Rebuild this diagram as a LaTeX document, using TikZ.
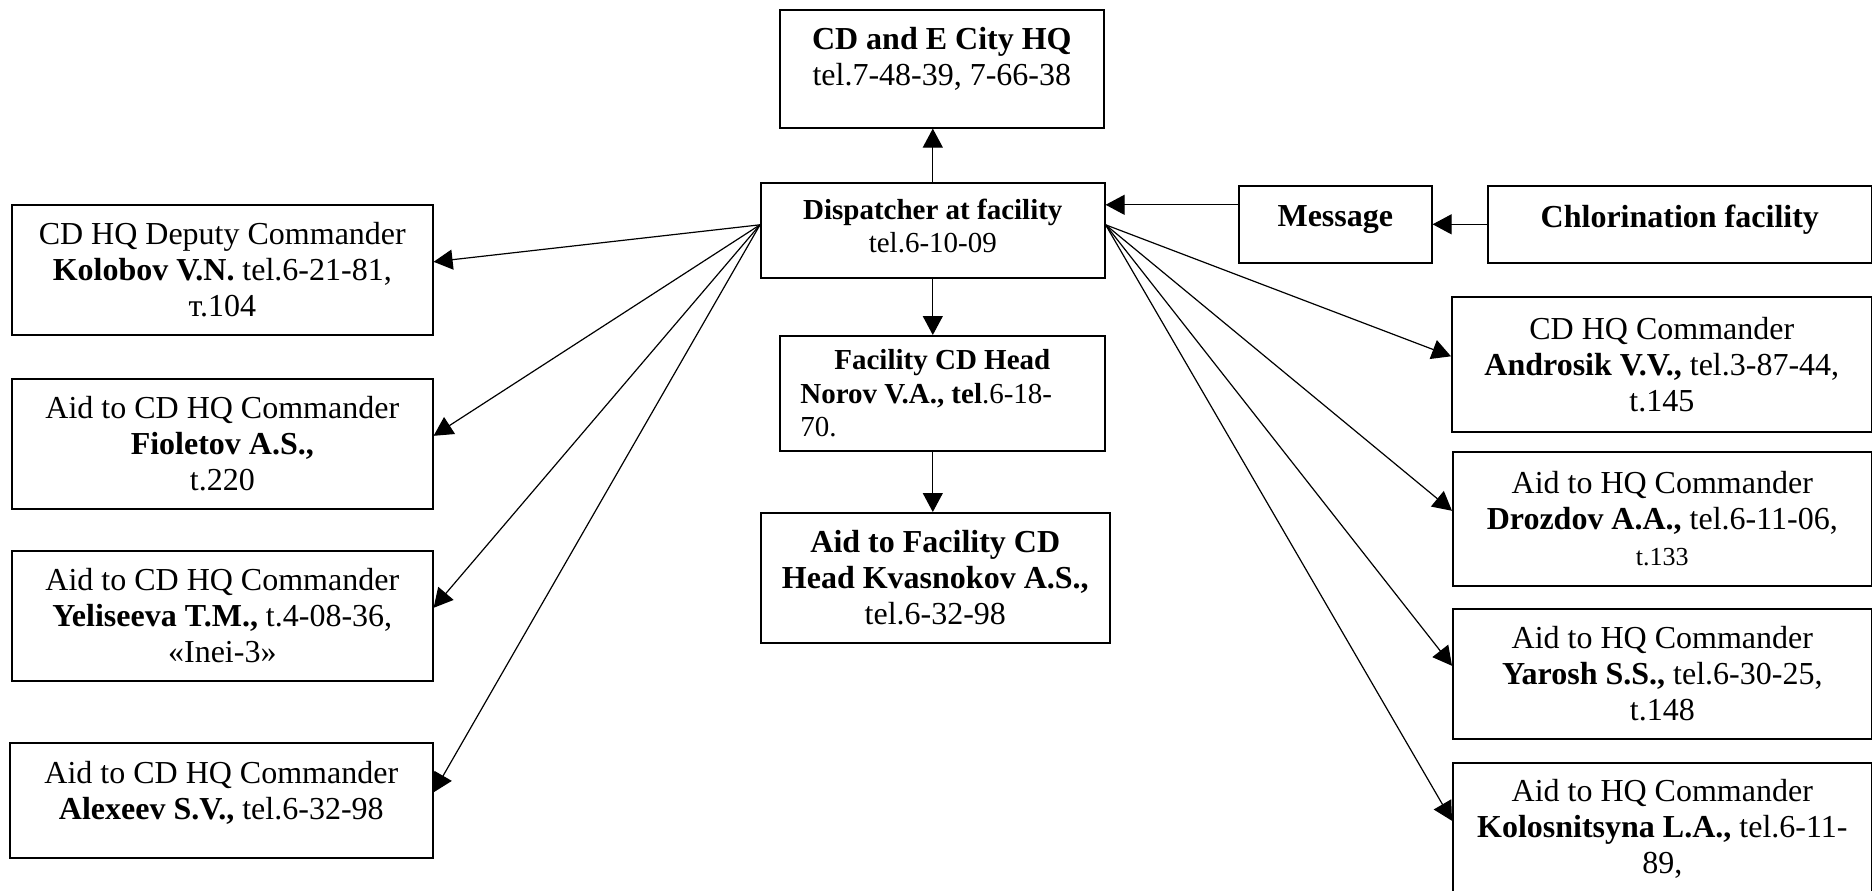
\documentclass[tikz,border=0pt]{standalone}
\usepackage{fontspec}
\setmainfont{Liberation Serif}
\usetikzlibrary{arrows.meta}

% spazio vuoto sotto l'ultima riga
\newcommand{\padbot}[1]{\rule[-#1]{0pt}{#1}}

\begin{document}
\begin{tikzpicture}[x=1pt, y=-1pt,
  box/.style={draw, line width=0.8pt, anchor=north west, align=center,
    inner sep=0pt, font=\fontsize{16}{18}\selectfont},
  boxsm/.style={box, font=\fontsize{14.5}{16.8}\selectfont},
  arr/.style={line width=0.6pt, -{Triangle[length=9.5pt,width=10pt]}}]

% Area del disegno
\useasboundingbox (0,0) rectangle (936,445);

% Colonna centrale
\node[box, minimum width=162pt, minimum height=59pt] (hq) at (389.5,4.5)
  {\textbf{CD and E City HQ}\\tel.7-48-39, 7-66-38\padbot{12pt}};
\node[boxsm, minimum width=172pt, minimum height=47.5pt] (disp) at (380,91)
  {\textbf{Dispatcher at facility}\\tel.6-10-09\padbot{4.5pt}};
\node[boxsm, minimum width=162.5pt, minimum height=57.5pt] (norov) at (389.5,167.5)
  {\textbf{Facility CD Head}\\\makebox[142pt][l]{\textbf{Norov V.A., tel}.6-18-}\\\makebox[142pt][l]{70.}};
\node[box, minimum width=174.5pt, minimum height=65pt] (kvas) at (380,256)
  {\textbf{Aid to Facility CD}\\\textbf{Head Kvasnokov A.S.,}\\tel.6-32-98};

% In alto a destra
\node[box, minimum width=96.5pt, minimum height=38.5pt] (msg) at (619,92.5)
  {\textbf{Message}\padbot{8pt}};
\node[box, minimum width=192pt, minimum height=38.5pt] (chlor) at (743.5,92.5)
  {\textbf{Chlorination facility}\padbot{8.5pt}};

% Colonna sinistra
\node[box, minimum width=210.5pt, minimum height=65pt] (kol) at (5.5,102)
  {CD HQ Deputy Commander\\\textbf{Kolobov V.N.} tel.6-21-81,\\т.104};
\node[box, minimum width=210.5pt, minimum height=65pt] (fio) at (5.5,189)
  {Aid to CD HQ Commander\\\textbf{Fioletov A.S.,}\\t.220};
\node[box, minimum width=210.5pt, minimum height=65pt] (yel) at (5.5,275)
  {Aid to CD HQ Commander\\\textbf{Yeliseeva T.M.,} t.4-08-36,\\«Inei-3»};
\node[box, minimum width=211.5pt, minimum height=57.5pt] (alex) at (4.5,371)
  {Aid to CD HQ Commander\\\textbf{Alexeev S.V.,} tel.6-32-98\padbot{9.6pt}};

% Colonna destra
\node[box, minimum width=210pt, minimum height=67.5pt] (andr) at (725.5,148)
  {CD HQ Commander\\\textbf{Androsik V.V.,} tel.3-87-44,\\t.145};
\node[box, minimum width=209.5pt, minimum height=67pt] (droz) at (726,225.5)
  {Aid to HQ Commander\\\textbf{Drozdov A.A.,} tel.6-11-06,\\{\fontsize{13}{15}\selectfont t.133}};
\node[box, minimum width=209.5pt, minimum height=65pt] (yar) at (726,304)
  {Aid to HQ Commander\\\textbf{Yarosh S.S.,} tel.6-30-25,\\t.148};
\node[box, minimum width=209.5pt, minimum height=66pt] (kls) at (726,381)
  {Aid to HQ Commander\\\textbf{Kolosnitsyna L.A.,} tel.6-11-\\89,};

% Frecce verticali
\draw[arr] (disp.north) -- (disp.north |- hq.south);
\draw[arr] (disp.south) -- (disp.south |- norov.north);
\draw[arr] (disp.south |- norov.south) -- (disp.south |- kvas.north);

% Segnalazione
\draw[arr] (chlor.west) -- (msg.east);
\draw[arr] ([yshift=9.75pt]msg.west) -- ([yshift=9.75pt]msg.west -| disp.east);

% Verso sinistra
\draw[arr] ([yshift=2.75pt]disp.west) -- ([yshift=4pt]kol.east);
\draw[arr] ([yshift=2.75pt]disp.west) -- ([yshift=4pt]fio.east);
\draw[arr] ([yshift=2.75pt]disp.west) -- ([yshift=4pt]yel.east);
\draw[arr] ([yshift=2.75pt]disp.west) -- ([yshift=4pt]alex.east);

% Verso destra
\draw[arr] ([yshift=2.75pt]disp.east) -- ([yshift=4pt]andr.west);
\draw[arr] ([yshift=2.75pt]disp.east) -- ([yshift=4pt]droz.west);
\draw[arr] ([yshift=2.75pt]disp.east) -- ([yshift=4pt]yar.west);
\draw[arr] ([yshift=2.75pt]disp.east) -- ([yshift=4pt]kls.west);

\end{tikzpicture}
\end{document}
